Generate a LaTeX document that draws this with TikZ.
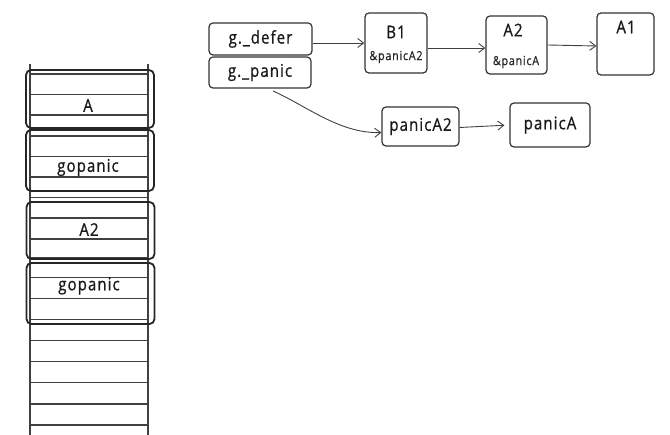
\documentclass[tikz,border=0pt]{standalone}
\usepackage{fontspec}
\setmainfont{Open Sans}[FakeStretch=0.86, LetterSpace=6, FakeBold=0.8]
\usetikzlibrary{arrows.meta}
\begin{document}
\begin{tikzpicture}[x=1pt,y=-1pt,
  grid/.style={draw=black!75, line width=1.1pt},
  frame/.style={draw=black!85, line width=1.8pt, rounded corners=5pt},
  rec/.style={draw=black!80, line width=1.2pt, rounded corners=4pt, inner sep=0pt},
  link/.style={draw=black!75, line width=0.9pt, -{Straight Barb[length=6pt,width=9pt]}},
  txt/.style={font=\fontsize{17.5}{19}\selectfont, text=black!90},
  small/.style={font=\fontsize{12.5}{14}\selectfont, text=black!85}]
\useasboundingbox (0,0) rectangle (670,435);

% stack rails and slot lines
\draw[grid] (30,64) -- (30,435);
\draw[grid] (148,64) -- (148,435);
\foreach \yy in {74,94.5,115,136,156.5,177,197.5,218,239,258,277.5,298.5,319.5,340.5,361.5,382.5,404,425}
  \draw[grid] (30,\yy) -- (148,\yy);

% frames on the stack
\node[frame, minimum width=128pt, minimum height=58pt] (fA)  at (90,99)  {};
\node[frame, minimum width=128pt, minimum height=61pt] (fG1) at (90,160.5) {};
\node[frame, minimum width=128pt, minimum height=57pt] (fA2) at (90.5,230.5) {};
\node[frame, minimum width=128pt, minimum height=61pt] (fG2) at (90.5,293.5) {};
\node[txt] (tA)  at (88,105.5)  {A};
\node[txt] (tG1) at (88,167.5)  {gopanic};
\node[txt] (tA2) at (89,229.5)  {A2};
\node[txt] (tG2) at (89,286)  {gopanic};

% goroutine fields
\node[rec, txt, minimum width=103pt, minimum height=32pt] (defer) at (260.5,39) {g.\_defer};
\node[rec, txt, minimum width=102pt, minimum height=31pt] (panic) at (260,72.5) {g.\_panic};

% defer chain
\node[rec, minimum width=62pt, minimum height=60pt] (B1) at (396,43) {};
\node[txt]   (tB1)  at (396,32) {B1};
\node[small] (pB1)  at (396,57) {\&panicA2};
\node[rec, minimum width=61pt, minimum height=58pt] (A2) at (516.5,45) {};
\node[txt]   (tA2b) at (513,30) {A2};
\node[small] (pA2)  at (516,62) {\&panicA};
\node[rec, minimum width=57pt, minimum height=62pt] (A1) at (625.5,44) {};
\node[txt]   (tA1)  at (626,27) {A1};

% panic chain
\node[rec, txt, minimum width=77pt, minimum height=39pt] (pan2) at (420.5,126.5) {panicA2};
\node[rec, txt, minimum width=80pt, minimum height=44pt] (pan1) at (550,125) {panicA};

% connectors
\draw[link] (defer.east |- B1) -- (B1.west);
\draw[link] ([yshift=-5pt]B1.east) -- ([yshift=-3pt]A2.west);
\draw[link] (A2.east) -- ([yshift=-2pt]A1.west);
\draw[link, shorten >=5pt] ([yshift=-1pt]pan2.east) -- (pan1.west);
\coordinate (ps) at (273,91);
\draw[link] (ps) .. controls (305,105) and (340,134) .. ([yshift=-6pt]pan2.west);
\end{tikzpicture}
\end{document}
